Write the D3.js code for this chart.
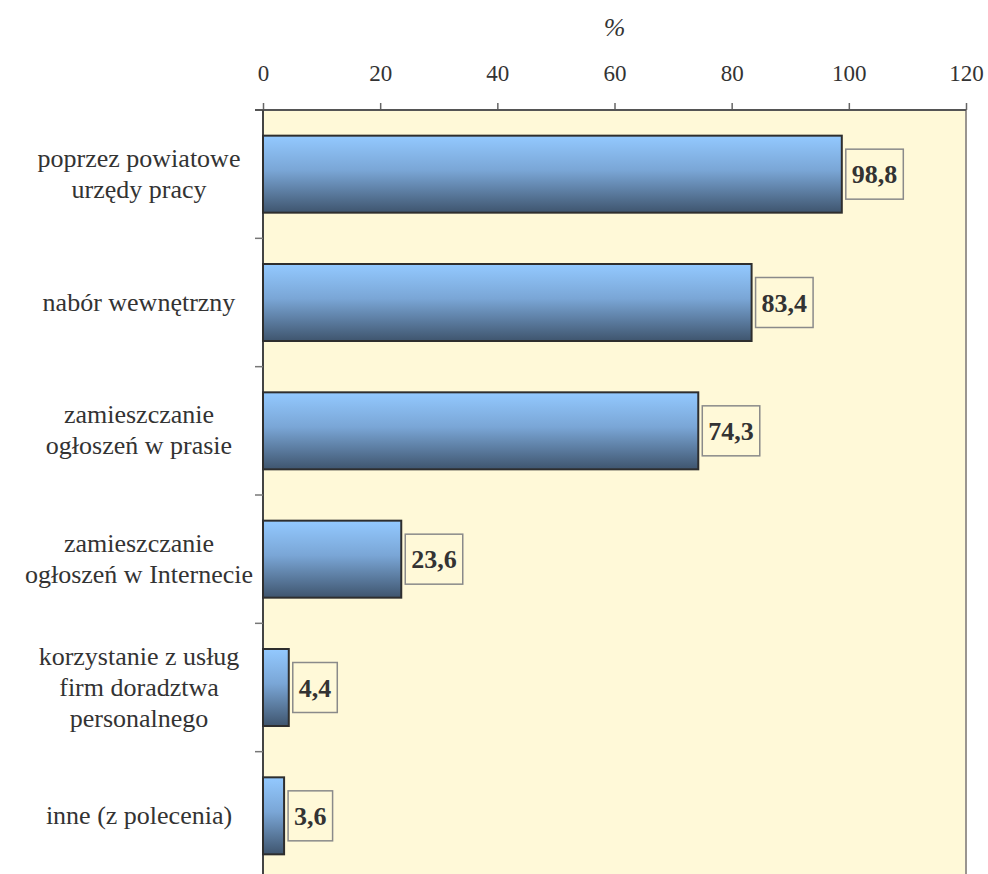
<!DOCTYPE html>
<html>
<head>
<meta charset="utf-8">
<script src="https://cdn.jsdelivr.net/npm/d3@7"></script>
<style>
  html, body { margin: 0; padding: 0; background: #ffffff; }
  svg { display: block; }
</style>
</head>
<body>
<svg id="chart" width="988" height="874"></svg>
<script>
// Recruitment channels (share of respondents, %)
const categories = [
  ["poprzez powiatowe", "urzędy pracy"],
  ["nabór wewnętrzny"],
  ["zamieszczanie", "ogłoszeń w prasie"],
  ["zamieszczanie", "ogłoszeń w Internecie"],
  ["korzystanie z usług", "firm doradztwa", "personalnego"],
  ["inne (z polecenia)"]
];
const values = [98.8, 83.4, 74.3, 23.6, 4.4, 3.6];
const valueLabels = ["98,8", "83,4", "74,3", "23,6", "4,4", "3,6"];
const xTicks = [0, 20, 40, 60, 80, 100, 120];
const axisTitle = "%";

const SERIF = "'Liberation Serif', 'Times New Roman', Times, serif";
const TEXT = "#333333";
const svg = d3.select("#chart");
const plot = { left: 263, right: 966, top: 110, bottom: 880 };

const x = d3.scaleLinear().domain([0, 120]).range([plot.left, plot.right]);
const y = d3.scaleBand()
  .domain(d3.range(categories.length))
  .range([plot.top, plot.bottom])
  .paddingInner(0.40)
  .paddingOuter(0.20);

// Bar gradient: light sky blue on top fading to slate at the bottom
const defs = svg.append("defs");
const grad = defs.append("linearGradient")
  .attr("id", "barGrad").attr("x1", 0).attr("y1", 0).attr("x2", 0).attr("y2", 1);
grad.append("stop").attr("offset", "0%").attr("stop-color", "#93c9ff");
grad.append("stop").attr("offset", "45%").attr("stop-color", "#7aa6d6");
grad.append("stop").attr("offset", "100%").attr("stop-color", "#3f556e");

// Plot background
svg.append("rect")
  .attr("x", plot.left).attr("y", plot.top)
  .attr("width", plot.right - plot.left).attr("height", plot.bottom - plot.top)
  .attr("fill", "#fff9d8");

// Right border of the plot area
svg.append("line")
  .attr("x1", plot.right).attr("x2", plot.right)
  .attr("y1", plot.top).attr("y2", plot.bottom)
  .attr("stroke", "#9a9590").attr("stroke-width", 2);

// Top value axis
const xAxis = d3.axisTop(x).tickValues(xTicks).tickSize(7).tickPadding(22)
  .tickFormat(d3.format("d"));
const gx = svg.append("g").attr("transform", `translate(0,${plot.top})`).call(xAxis);
gx.select(".domain").remove();
gx.selectAll(".tick line").attr("stroke", "#666").attr("stroke-width", 1.5);
gx.selectAll(".tick text")
  .style("font-family", SERIF)
  .attr("font-size", 23).attr("fill", TEXT);
svg.append("line")
  .attr("x1", plot.left - 8).attr("x2", plot.right)
  .attr("y1", plot.top).attr("y2", plot.top)
  .attr("stroke", "#555").attr("stroke-width", 2);

// Axis title
svg.append("text")
  .attr("x", (plot.left + plot.right) / 2).attr("y", 36)
  .attr("text-anchor", "middle")
  .style("font-family", SERIF)
  .attr("font-size", 26).attr("font-style", "italic").attr("fill", TEXT)
  .text(axisTitle);

// Left category axis: line plus ticks between bands
svg.append("line")
  .attr("x1", plot.left).attr("x2", plot.left)
  .attr("y1", plot.top).attr("y2", plot.bottom)
  .attr("stroke", "#444").attr("stroke-width", 2);
const boundaries = d3.range(1, categories.length + 1)
  .map(i => plot.top + i * (plot.bottom - plot.top) / categories.length);
svg.selectAll(".ytick").data(boundaries).join("line")
  .attr("class", "ytick")
  .attr("x1", plot.left - 8).attr("x2", plot.left)
  .attr("y1", d => d).attr("y2", d => d)
  .attr("stroke", "#777").attr("stroke-width", 1.5);

// Category labels (multi-line, centred)
const lineH = 31;
const labelX = 139;
svg.selectAll(".cat").data(categories).join("text")
  .attr("class", "cat")
  .attr("text-anchor", "middle")
  .style("font-family", SERIF)
  .attr("font-size", 26).attr("fill", TEXT)
  .each(function(lines, i) {
    const cy = y(i) + y.bandwidth() / 2;
    const first = cy - (lines.length - 1) * lineH / 2 + 8;
    d3.select(this).selectAll("tspan").data(lines).join("tspan")
      .attr("x", labelX)
      .attr("y", (d, j) => first + j * lineH)
      .text(d => d);
  });

// Bars
svg.selectAll(".bar").data(values).join("rect")
  .attr("class", "bar")
  .attr("x", x(0)).attr("y", (d, i) => y(i))
  .attr("width", d => x(d) - x(0)).attr("height", y.bandwidth())
  .attr("fill", "url(#barGrad)")
  .attr("stroke", "#2e2e2e").attr("stroke-width", 2);

// Value labels in boxes
const lbl = svg.selectAll(".vlabel").data(values).join("g").attr("class", "vlabel");
lbl.each(function(d, i) {
  const g = d3.select(this);
  const cy = y(i) + y.bandwidth() / 2;
  const t = g.append("text")
    .style("font-family", SERIF)
    .attr("font-size", 26).attr("font-weight", "bold")
    .attr("fill", TEXT)
    .attr("y", cy + 9)
    .text(valueLabels[i]);
  const w = t.node().getComputedTextLength();
  const bx = x(d) + 4;
  t.attr("x", bx + 6);
  g.insert("rect", "text")
    .attr("x", bx).attr("y", cy - 25)
    .attr("width", w + 12).attr("height", 50)
    .attr("fill", "#fff9d8")
    .attr("stroke", "#8a8a8a").attr("stroke-width", 1.5);
});
</script>
</body>
</html>
